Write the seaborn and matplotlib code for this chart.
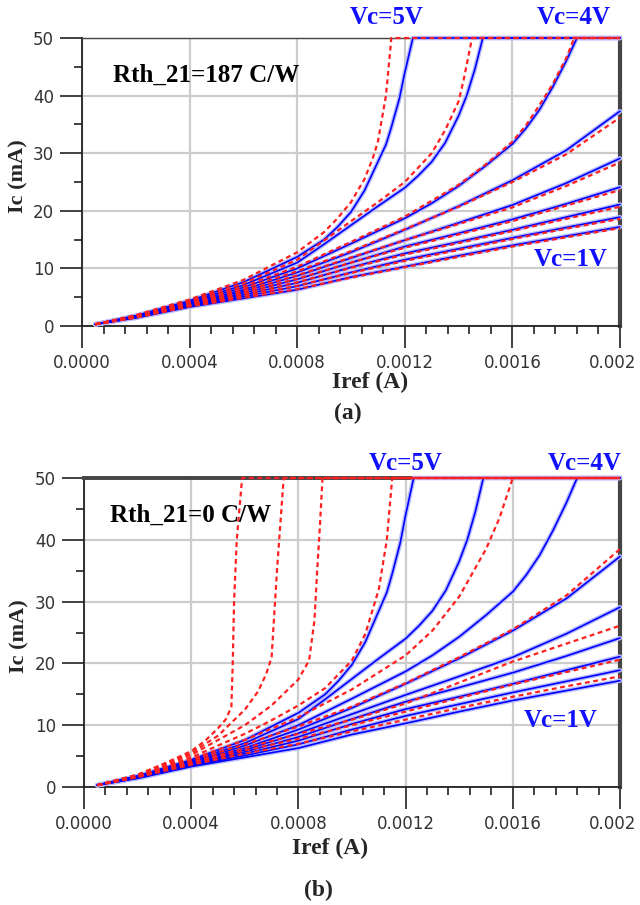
import matplotlib
matplotlib.use('Agg')
import matplotlib.pyplot as plt
import matplotlib.transforms as mtransforms
import seaborn as sns
import pandas as pd
from matplotlib.ticker import MultipleLocator

# Eixos
xticks = [0.0, 0.0004, 0.0008, 0.0012, 0.0016, 0.002]
xtick_labels = ['0.0000', '0.0004', '0.0008', '0.0012', '0.0016', '0.002']
yticks = [0, 10, 20, 30, 40, 50]

vc_values = [5, 4.5, 4, 3.5, 3, 2.5, 2, 1.5, 1]
iref_grid = [0.00005, 0.0002, 0.0004, 0.0006, 0.0008, 0.001, 0.0012, 0.0014, 0.0016, 0.0018, 0.002]

# Medido (azul) - igual nos dois paineis
meas_x = [
    [0.00005, 0.0002, 0.0004, 0.0006, 0.0008, 0.0009, 0.00095, 0.001, 0.00105, 0.0011, 0.00113, 0.00115,
     0.00118, 0.0012, 0.00123, 0.002],
    [0.00005, 0.0002, 0.0004, 0.0006, 0.0008, 0.0009, 0.001, 0.0011, 0.0012, 0.00125, 0.0013, 0.00135,
     0.0014, 0.00143, 0.00146, 0.00149, 0.002],
    [0.00005, 0.0002, 0.0004, 0.0006, 0.0008, 0.001, 0.0012, 0.0013, 0.0014, 0.0015, 0.0016, 0.00165,
     0.0017, 0.00175, 0.0018, 0.00184, 0.002],
    iref_grid, iref_grid, iref_grid, iref_grid, iref_grid, iref_grid,
]
meas_y = [
    [0.3, 1.8, 4.4, 7.6, 12.0, 15.0, 17.2, 19.8, 23.5, 28.5, 31.5, 34.5, 39.5, 44.0, 50, 50],
    [0.3, 1.75, 4.2, 7.1, 11.0, 14.2, 17.5, 20.8, 24.0, 26.1, 28.5, 31.8, 36.5, 40.0, 44.5, 50, 50],
    [0.3, 1.7, 4.0, 6.7, 10.0, 14.3, 18.7, 21.3, 24.3, 27.8, 31.6, 34.3, 37.5, 41.5, 46.0, 50, 50],
    [0.3, 1.65, 3.9, 6.3, 9.3, 12.8, 16.7, 20.8, 25.3, 30.5, 37.3],
    [0.3, 1.6, 3.7, 6.0, 8.7, 11.8, 14.9, 17.9, 21.0, 24.8, 29.1],
    [0.3, 1.55, 3.6, 5.7, 8.1, 11.0, 13.8, 16.1, 18.5, 21.2, 24.1],
    [0.3, 1.5, 3.5, 5.4, 7.5, 10.2, 12.6, 14.6, 16.7, 18.9, 21.1],
    [0.3, 1.45, 3.4, 5.1, 6.9, 9.3, 11.5, 13.4, 15.3, 17.1, 18.9],
    [0.3, 1.4, 3.3, 4.8, 6.3, 8.5, 10.3, 12.2, 14.0, 15.6, 17.2],
]

# Simulado (vermelho) - Rth_21=187 C/W
sim_a_x = [
    [0.00005, 0.0002, 0.0004, 0.0006, 0.0008, 0.0009, 0.00095, 0.001, 0.00105, 0.00108, 0.0011, 0.00113,
     0.00115, 0.002],
    [0.00005, 0.0002, 0.0004, 0.0006, 0.0008, 0.001, 0.0011, 0.0012, 0.0013, 0.00135, 0.0014, 0.00142,
     0.00145, 0.002],
    [0.00005, 0.0002, 0.0004, 0.0006, 0.0008, 0.001, 0.0012, 0.0014, 0.0015, 0.0016, 0.00165, 0.0017,
     0.00175, 0.0018, 0.00183, 0.002],
    iref_grid, iref_grid, iref_grid, iref_grid, iref_grid, iref_grid,
]
sim_a_y = [
    [0.3, 1.9, 4.6, 8.0, 12.8, 16.3, 18.7, 21.5, 25.5, 29.0, 32.0, 40.0, 50, 50],
    [0.3, 1.8, 4.4, 7.4, 11.5, 18.2, 21.5, 25.0, 30.0, 34.0, 39.0, 43.0, 50, 50],
    [0.3, 1.75, 4.1, 6.9, 10.3, 14.6, 19.0, 24.5, 28.0, 32.0, 34.8, 38.3, 42.0, 46.5, 50, 50],
    [0.3, 1.7, 4.0, 6.5, 9.5, 13.0, 16.8, 20.7, 25.0, 29.8, 36.2],
    [0.3, 1.65, 3.8, 6.1, 8.8, 11.9, 14.9, 17.7, 20.6, 24.3, 28.4],
    [0.3, 1.6, 3.7, 5.8, 8.2, 11.0, 13.6, 15.9, 18.2, 20.9, 23.6],
    [0.3, 1.55, 3.6, 5.5, 7.6, 10.1, 12.4, 14.4, 16.5, 18.6, 20.7],
    [0.3, 1.5, 3.5, 5.2, 7.0, 9.2, 11.3, 13.2, 15.1, 16.9, 18.6],
    [0.3, 1.45, 3.4, 4.9, 6.4, 8.4, 10.2, 12.0, 13.8, 15.4, 17.0],
]

# Simulado (vermelho) - Rth_21=0 C/W
sim_b_x = [
    [0.00005, 0.0002, 0.0003, 0.0004, 0.00045, 0.0005, 0.00053, 0.00055, 0.000555, 0.00056, 0.00057,
     0.00059, 0.002],
    [0.00005, 0.0002, 0.0004, 0.0005, 0.0006, 0.00065, 0.00068, 0.0007, 0.00071, 0.00072, 0.00073,
     0.000745, 0.002],
    [0.00005, 0.0002, 0.0004, 0.0005, 0.0006, 0.0007, 0.0008, 0.00084, 0.00086, 0.00087, 0.00088,
     0.00089, 0.002],
    [0.00005, 0.0002, 0.0004, 0.0006, 0.0007, 0.0008, 0.0009, 0.001, 0.00105, 0.0011, 0.00113, 0.00115,
     0.002],
    [0.00005, 0.0002, 0.0004, 0.0006, 0.0008, 0.001, 0.0012, 0.0013, 0.0014, 0.0015, 0.00155, 0.0016,
     0.002],
    iref_grid, iref_grid, iref_grid, iref_grid,
]
sim_b_y = [
    [0.3, 2.0, 3.8, 5.8, 7.4, 9.5, 11.0, 13.0, 20.0, 30.0, 40.0, 50, 50],
    [0.3, 1.95, 5.5, 8.3, 12.5, 15.5, 18.3, 21.0, 28.0, 35.0, 41.0, 50, 50],
    [0.3, 1.9, 5.2, 7.6, 10.0, 13.2, 17.4, 20.5, 27.0, 35.0, 42.0, 50, 50],
    [0.3, 1.85, 4.8, 8.6, 10.8, 13.2, 16.0, 20.5, 24.8, 32.0, 40.0, 50, 50],
    [0.3, 1.8, 4.5, 7.6, 11.3, 15.8, 21.3, 25.3, 30.8, 38.5, 43.5, 50, 50],
    [0.3, 1.75, 4.3, 6.9, 9.8, 13.0, 16.8, 21.0, 25.5, 31.0, 38.5],
    [0.3, 1.7, 4.0, 6.3, 8.6, 10.9, 13.5, 16.9, 20.3, 23.2, 26.1],
    [0.3, 1.65, 3.8, 5.9, 7.8, 10.0, 12.2, 14.4, 16.6, 18.6, 20.6],
    [0.3, 1.6, 3.6, 5.4, 7.0, 9.0, 10.9, 12.8, 14.6, 16.3, 17.9],
]


def long_frame(xs, ys):
    rows = []
    for k, (cx, cy) in enumerate(zip(xs, ys)):
        for x, y in zip(cx, cy):
            rows.append({'curva': k, 'Vc': vc_values[k], 'Iref': x, 'Ic': y})
    return pd.DataFrame(rows)


df_meas = long_frame(meas_x, meas_y)
df_sim_a = long_frame(sim_a_x, sim_a_y)
df_sim_b = long_frame(sim_b_x, sim_b_y)

sns.set_style('white')
serif = ['Liberation Serif', 'DejaVu Serif']

fig = plt.figure(figsize=(6.4, 9.05), dpi=100)
ax_a = fig.add_axes([82 / 640, 1 - 326 / 905, 538 / 640, 288 / 905])
ax_b = fig.add_axes([84 / 640, 1 - 787 / 905, 536 / 640, 309 / 905])


def desenha(ax, df_sim):
    # halo claro + linha azul (medido), depois vermelho tracejado (simulado)
    sns.lineplot(data=df_meas, x='Iref', y='Ic', units='curva', estimator=None, sort=False,
                 color='#b8bcff', lw=3.2, ax=ax, clip_on=False, zorder=2.6)
    sns.lineplot(data=df_meas, x='Iref', y='Ic', units='curva', estimator=None, sort=False,
                 color='#0000ff', lw=1.2, ax=ax, clip_on=False, zorder=2.7)
    sns.lineplot(data=df_sim, x='Iref', y='Ic', units='curva', estimator=None, sort=False,
                 color='#ff2020', lw=1.6, linestyle=(0, (2.2, 1.6)), ax=ax, clip_on=False, zorder=2.8)


def estilo(ax, top_lw):
    ax.set_xlim(0, 0.002)
    ax.set_ylim(0, 50)
    ax.set_xticks(xticks)
    ax.set_xticklabels(xtick_labels)
    ax.set_yticks(yticks)
    ax.xaxis.set_minor_locator(MultipleLocator(0.00008))
    ax.yaxis.set_minor_locator(MultipleLocator(5))
    ax.set_axisbelow(True)
    ax.grid(True, which='major', color='#cccccc', lw=1.6)
    ax.tick_params(which='major', direction='out', length=16, width=1.3, color='#333333',
                   labelsize=12, labelcolor='#333333', pad=4, bottom=True, left=True)
    ax.tick_params(which='minor', direction='out', length=6, width=1.3, color='#333333',
                   bottom=True, left=True)
    ax.set_xlabel('')
    ax.set_ylabel('')
    for s in ['left', 'bottom']:
        ax.spines[s].set_color('#222222')
        ax.spines[s].set_linewidth(1.3)
    ax.spines['right'].set_color('#444444')
    ax.spines['right'].set_linewidth(3)
    ax.spines['top'].set_color('#444444')
    ax.spines['top'].set_linewidth(top_lw)
    # ultimo rotulo encostado na borda direita
    last = ax.get_xticklabels()[-1]
    last.set_transform(last.get_transform() +
                       mtransforms.ScaledTranslation(-7 / 100, 0, fig.dpi_scale_trans))


desenha(ax_a, df_sim_a)
estilo(ax_a, 1.0)
desenha(ax_b, df_sim_b)
estilo(ax_b, 2.8)

blue = '#1010ff'
bold = dict(fontweight='bold', family=serif)

ax_a.text(0.000461, 43.6, 'Rth_21=187 C/W', ha='center', va='center', fontsize=18, color='black', **bold)
ax_a.text(0.001131, 53.6, 'Vc=5V', ha='center', va='center', fontsize=18, color=blue, **bold)
ax_a.text(0.001827, 53.6, 'Vc=4V', ha='center', va='center', fontsize=18, color=blue, **bold)
ax_a.text(0.001816, 11.5, 'Vc=1V', ha='center', va='center', fontsize=18, color=blue, **bold)

ax_b.text(0.000396, 43.9, 'Rth_21=0 C/W', ha='center', va='center', fontsize=18, color='black', **bold)
ax_b.text(0.0012, 52.4, 'Vc=5V', ha='center', va='center', fontsize=18, color=blue, **bold)
ax_b.text(0.00187, 52.4, 'Vc=4V', ha='center', va='center', fontsize=18, color=blue, **bold)
ax_b.text(0.00178, 10.7, 'Vc=1V', ha='center', va='center', fontsize=18, color=blue, **bold)


def px(x, y):
    return x / 640, 1 - y / 905


fig.text(*px(18, 176), 'Ic (mA)', rotation=90, ha='center', va='center', fontsize=16, **bold)
fig.text(*px(370, 382), 'Iref (A)', ha='center', va='center', fontsize=17, **bold)
fig.text(*px(348, 413), '(a)', ha='center', va='center', fontsize=17, **bold)

fig.text(*px(19, 636), 'Ic (mA)', rotation=90, ha='center', va='center', fontsize=16, **bold)
fig.text(*px(330, 848), 'Iref (A)', ha='center', va='center', fontsize=17, **bold)
fig.text(*px(318, 890), '(b)', ha='center', va='center', fontsize=17, **bold)

plt.savefig('out.png', dpi=100)
